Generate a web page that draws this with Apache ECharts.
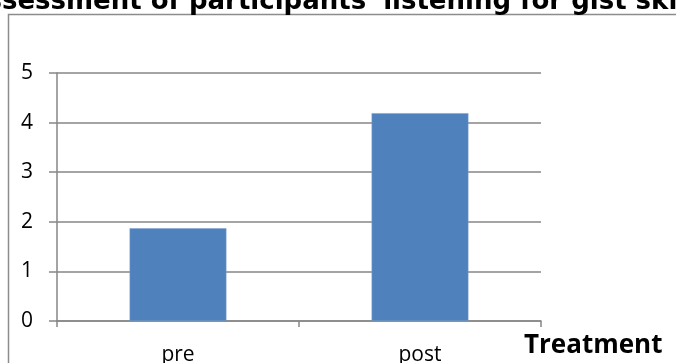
<!DOCTYPE html>
<html>
<head>
<meta charset="utf-8">
<script src="https://cdn.jsdelivr.net/npm/echarts@6/dist/echarts.min.js"></script>
<style>
  html, body { margin: 0; padding: 0; background: #fff; }
  #chart { width: 676px; height: 363px; }
</style>
</head>
<body>
<div id="chart"></div>
<script>
// Mean scores before and after the treatment
const categories = ['pre', 'post'];
const scores = [1.87, 4.19];
const yTicks = [0, 1, 2, 3, 4, 5];
const titleText = "assessment of participants' listening for gist skill";
const axisName = 'Treatment';

const chart = echarts.init(document.getElementById('chart'), null, { renderer: 'canvas' });

const axisGrey = '#868686';
const labelFont = '"Open Sans", Lato, sans-serif';

chart.setOption({
  backgroundColor: '#ffffff',
  animation: false,
  graphic: [
    {
      type: 'rect',
      shape: { x: 8.5, y: 14.5, width: 700, height: 400 },
      style: { fill: 'none', stroke: '#8c8c8c', lineWidth: 1.5 },
      z: 0
    },
    {
      type: 'text',
      x: 332,
      y: 15,
      style: {
        text: titleText,
        font: '900 26px "DejaVu Sans"',
        fill: '#000000',
        align: 'center',
        verticalAlign: 'bottom'
      }
    },
    {
      type: 'text',
      x: 524,
      y: 359,
      style: {
        text: axisName,
        font: 'bold 26px "Open Sans", Lato, sans-serif',
        fill: '#000000',
        align: 'left',
        verticalAlign: 'bottom'
      }
    }
  ],
  grid: { left: 57, right: 135, top: 73, bottom: 42, containLabel: false, outerBoundsMode: 'none' },
  xAxis: {
    type: 'category',
    data: categories,
    axisLine: { show: true, lineStyle: { color: axisGrey, width: 1.5 } },
    axisTick: { show: true, length: 6, inside: false, alignWithLabel: false, lineStyle: { color: axisGrey, width: 1.5 } },
    axisLabel: { color: '#000', fontSize: 21, fontFamily: labelFont, margin: 24 },
    splitLine: { show: false }
  },
  yAxis: {
    type: 'value',
    min: 0,
    max: 5,
    interval: 1,
    axisLine: { show: true, lineStyle: { color: axisGrey, width: 1.5 } },
    axisTick: { show: true, length: 8, lineStyle: { color: axisGrey, width: 1.5 } },
    axisLabel: {
      color: '#000', fontSize: 21, fontFamily: labelFont, margin: 24,
      formatter: v => (yTicks.includes(v) ? String(v) : '')
    },
    splitLine: { show: true, lineStyle: { color: axisGrey, width: 1.5 } }
  },
  series: [{
    type: 'bar',
    data: scores,
    barWidth: '40%',
    itemStyle: { color: '#4f81bd', borderColor: '#7a9fcf', borderWidth: 0.5 }
  }]
});
</script>
</body>
</html>
